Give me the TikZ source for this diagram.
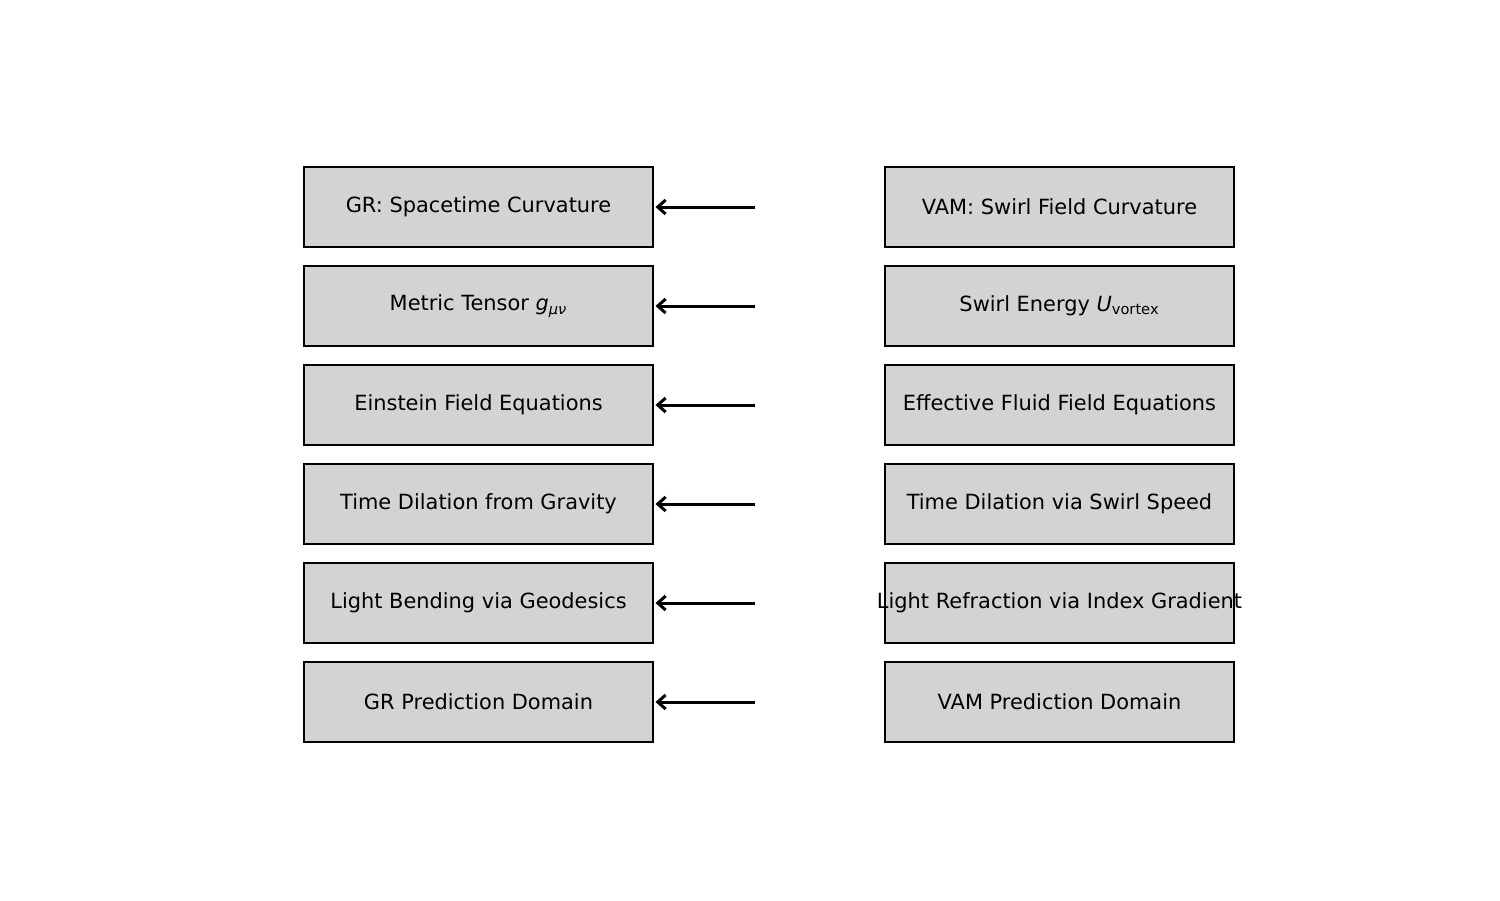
\documentclass[tikz,border=0pt]{standalone}
\usepackage{fontspec}
\setmainfont{DejaVu Sans}
\usetikzlibrary{arrows.meta}
\definecolor{boxgray}{HTML}{D3D3D3}
\begin{document}
\begin{tikzpicture}[x=0.02cm,y=-0.02cm,
  block/.style={draw,line width=0.85pt,fill=boxgray,minimum width=6.98cm,
    minimum height=1.6cm,inner sep=0pt,font=\fontsize{11.9}{14}\selectfont},
  link/.style={line width=1.7pt,-{Straight Barb[length=4.5pt,width=8pt,line width=1.7pt]},shorten >=1pt}]
\useasboundingbox(0,0)rectangle(1500,900);
% GR column
\node[block](gr1)at(478.5,207){GR: Spacetime Curvature};
\node[block](gr2)at(478.5,306){Metric Tensor \textit{g}\textsubscript{\textit{μν}}};
\node[block](gr3)at(478.5,405){Einstein Field Equations};
\node[block](gr4)at(478.5,504){Time Dilation from Gravity};
\node[block](gr5)at(478.5,603){Light Bending via Geodesics};
\node[block](gr6)at(478.5,702){GR Prediction Domain};
% VAM column
\node[block](vam1)at(1059.5,207){VAM: Swirl Field Curvature};
\node[block](vam2)at(1059.5,306){Swirl Energy \textit{U}\textsubscript{vortex}};
\node[block](vam3)at(1059.5,405){Effective Fluid Field Equations};
\node[block](vam4)at(1059.5,504){Time Dilation via Swirl Speed};
\node[block](vam5)at(1059.5,603){\makebox[0pt]{Light Refraction via Index Gradient}};
\node[block](vam6)at(1059.5,702){VAM Prediction Domain};
% arrow tails
\coordinate(t1)at(755,207);\coordinate(t2)at(755,306);
\coordinate(t3)at(755,405);\coordinate(t4)at(755,504);
\coordinate(t5)at(755,603);\coordinate(t6)at(755,702);
\draw[link](t1)--(gr1.east);\draw[link](t2)--(gr2.east);
\draw[link](t3)--(gr3.east);\draw[link](t4)--(gr4.east);
\draw[link](t5)--(gr5.east);\draw[link](t6)--(gr6.east);
\end{tikzpicture}
\end{document}
